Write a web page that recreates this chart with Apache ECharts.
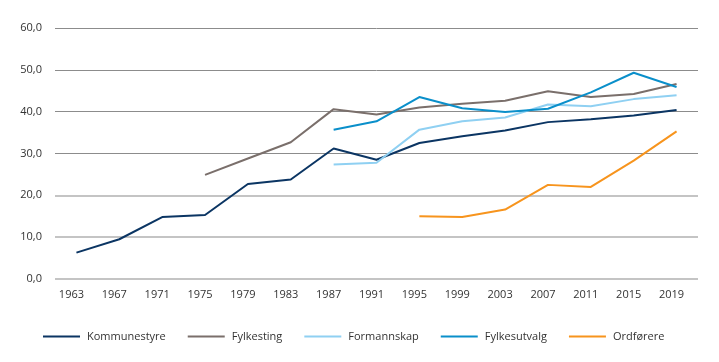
<!DOCTYPE html>
<html><head><meta charset="utf-8">
<script src="https://cdn.jsdelivr.net/npm/echarts@6/dist/echarts.min.js"></script>
<style>html,body{margin:0;padding:0;background:#fff}#c{width:719px;height:362px}</style>
</head><body><div id="c"></div>
<script>
const years = ['1963','1967','1971','1975','1979','1983','1987','1991','1995','1999','2003','2007','2011','2015','2019'];
const kommunestyre = [6.3, 9.5, 14.8, 15.3, 22.7, 23.8, 31.2, 28.5, 32.5, 34.1, 35.5, 37.5, 38.2, 39.1, 40.4];
const fylkesting = [null, null, null, 24.9, 28.8, 32.7, 40.6, 39.3, 41.0, 41.9, 42.6, 44.9, 43.5, 44.2, 46.6];
const formannskap = [null, null, null, null, null, null, 27.4, 27.8, 35.7, 37.7, 38.6, 41.7, 41.3, 43.0, 43.9];
const fylkesutvalg = [null, null, null, null, null, null, 35.7, 37.7, 43.5, 40.8, 39.9, 40.7, 44.6, 49.3, 45.9];
const ordforere = [null, null, null, null, null, null, null, null, 15.0, 14.8, 16.6, 22.5, 22.0, 28.3, 35.3];
const seriesNames = ['Kommunestyre','Fylkesting','Formannskap','Fylkesutvalg','Ordførere'];
const colors = ['#0b3563','#7a6f6b','#8fd0f2','#0a8fca','#f7941d'];
const values = [kommunestyre, fylkesting, formannskap, fylkesutvalg, ordforere];

const chart = echarts.init(document.getElementById('c'));
const font = 'Open Sans';
const T = 'rgba(0,0,0,0)';
chart.setOption({
  animation: false,
  color: colors,
  textStyle: {fontFamily: font},
  grid: {left: 55, right: 21, top: 28, bottom: 83},
  legend: {
    left: 38, top: 326, itemWidth: 37, itemHeight: 2, itemGap: 22,
    icon: 'rect',
    textStyle: {fontFamily: font, fontSize: 11, color: '#333', padding: [0, 0, 0, 2]},
    data: seriesNames
  },
  xAxis: {
    type: 'category', data: years, boundaryGap: true,
    axisLine: {show: false}, axisTick: {show: false},
    axisLabel: {fontFamily: font, fontSize: 11, color: '#333', margin: 10, padding: [0, 10, 0, 0]}
  },
  yAxis: [{
    type: 'value', min: 0, max: 60, interval: 10,
    axisLabel: {fontFamily: font, fontSize: 11, color: '#333', margin: 13,
      formatter: v => v.toFixed(1).replace('.', ',')},
    splitLine: {lineStyle: {color: ['#c4c4c4','#c4c4c4','#c4c4c4',T,T,T,T], width: 2}}
  }, {
    type: 'value', min: 0, max: 60, interval: 10, position: 'left',
    axisLabel: {show: false}, axisLine: {show: false}, axisTick: {show: false},
    splitLine: {lineStyle: {color: [T,T,T,'#8c8c8c','#8c8c8c','#8c8c8c','#8c8c8c'], width: 1}}
  }],
  series: seriesNames.map((n, i) => ({
    name: n, type: 'line', data: values[i], showSymbol: false, symbol: 'none', yAxisIndex: 0,
    lineStyle: {width: 2, color: colors[i]}, itemStyle: {color: colors[i]}
  }))
});
</script></body></html>
